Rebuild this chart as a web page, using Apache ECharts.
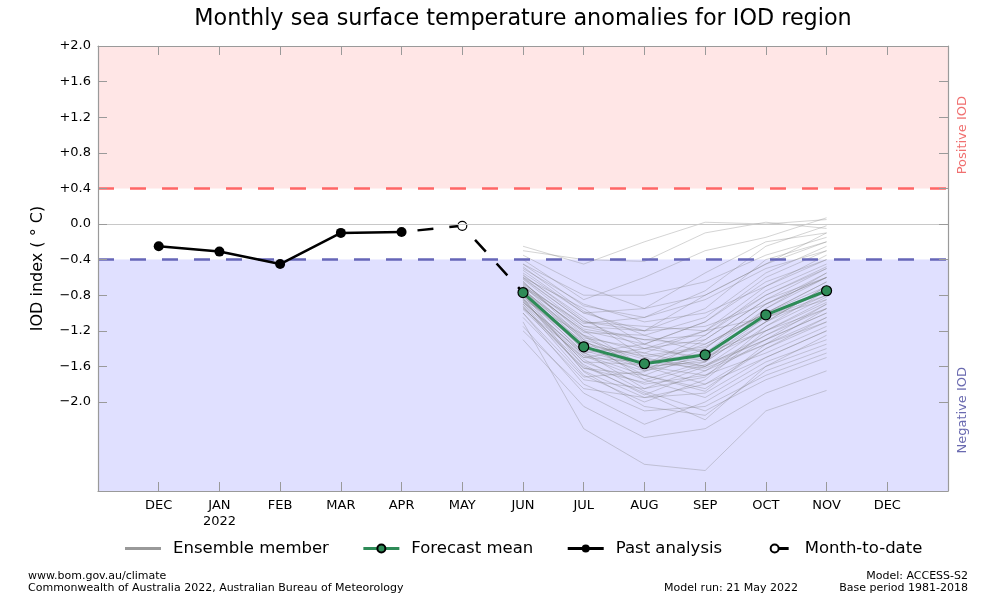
<!DOCTYPE html>
<html>
<head>
<meta charset="utf-8">
<script src="https://cdn.jsdelivr.net/npm/echarts@6/dist/echarts.min.js"></script>
<style>html,body{margin:0;padding:0;background:#fff}#c{width:996px;height:597px}</style>
</head>
<body>
<div id="c"></div>
<script>
// ---- data ----
const monthLabels = ['DEC','JAN\n2022','FEB','MAR','APR','MAY','JUN','JUL','AUG','SEP','OCT','NOV','DEC'];
const monthIndex = [0,1,2,3,4,5,6,7,8,9,10,11,12];
const yTickValues = [2.0,1.6,1.2,0.8,0.4,0.0,-0.4,-0.8,-1.2,-1.6,-2.0];
const yTickLabels = ['+2.0','+1.6','+1.2','+0.8','+0.4','0.0','\u22120.4','\u22120.8','\u22121.2','\u22121.6','\u22122.0'];

const pastMonths = [0,1,2,3,4];
const pastValues = [-0.25,-0.31,-0.45,-0.10,-0.09];

const mtdMonths = [4,5,6];
const mtdValues = [-0.09,-0.02,-0.77];

const forecastMonths = [6,7,8,9,10,11];
const forecastMean = [-0.77,-1.38,-1.57,-1.47,-1.02,-0.75];

// ensemble members: JUN..NOV
const ensembleMembers = [
  [-0.25,-0.45,-0.20, 0.02, 0.00, 0.05],
  [-0.30,-0.40,-0.42,-0.10, 0.02,-0.05],
  [-0.40,-0.85,-0.60,-0.30,-0.15, 0.07],
  [-0.55,-1.00,-0.95,-0.55,-0.20,-0.10],
  [-0.60,-1.10,-1.20,-0.80,-0.45,-0.20],
  [-0.70,-1.20,-1.35,-1.10,-0.60,-0.30],
  [-0.75,-1.30,-1.50,-1.40,-0.90,-0.55],
  [-0.80,-1.40,-1.60,-1.55,-1.10,-0.70],
  [-0.85,-1.55,-1.80,-1.70,-1.30,-0.90],
  [-0.90,-1.65,-1.95,-1.90,-1.50,-1.20],
  [-1.00,-1.80,-2.10,-2.05,-1.70,-1.45],
  [-1.10,-2.30,-2.70,-2.77,-2.10,-1.87],
  [-1.30,-2.05,-2.40,-2.30,-1.90,-1.65],
  [-0.65,-1.25,-1.45,-1.60,-1.25,-0.95],
  [-0.50,-0.90,-1.10,-1.00,-0.70,-0.40],
  [-0.45,-0.80,-0.80,-0.65,-0.35,-0.15],
  [-0.95,-1.50,-1.40,-1.20,-0.80,-0.50],
  [-0.72,-1.35,-1.70,-1.85,-1.40,-1.05],
  [-0.88,-1.45,-1.65,-1.30,-0.85,-0.60],
  [-0.78,-1.60,-1.90,-2.20,-1.60,-1.25],
  [-0.62,-1.15,-1.30,-1.35,-1.00,-0.65],
  [-0.82,-1.38,-1.55,-1.45,-1.05,-0.80],
  [-0.68,-1.22,-1.25,-1.05,-0.55,-0.25],
  [-0.92,-1.70,-2.00,-1.75,-1.20,-0.85],
  [-0.58,-1.05,-1.50,-1.65,-1.35,-1.10],
  [-1.05,-1.75,-1.85,-1.60,-1.15,-0.75],
  [-0.74,-1.28,-1.40,-1.50,-1.10,-0.70],
  [-0.84,-1.48,-1.75,-1.95,-1.55,-1.30],
  [-0.66,-1.18,-1.30,-1.25,-0.75,-0.45],
  [-0.96,-1.62,-1.70,-1.45,-0.95,-0.55],
  [-0.52,-1.00,-1.20,-1.15,-0.90,-0.60],
  [-0.76,-1.42,-1.62,-1.50,-1.20,-0.95],
  [-0.86,-1.55,-1.58,-1.35,-1.00,-0.65],
  [-1.15,-1.90,-2.25,-2.00,-1.60,-1.35],
  [-0.70,-1.12,-1.05,-0.85,-0.50,-0.30],
  [-0.80,-1.33,-1.52,-1.60,-1.30,-1.00],
  [-0.60,-0.95,-1.35,-1.55,-1.10,-0.80],
  [-0.90,-1.52,-1.88,-2.10,-1.75,-1.50],
  [-0.73,-1.40,-1.45,-1.20,-0.70,-0.35],
  [-0.85,-1.25,-1.60,-1.70,-1.45,-1.15],
  [-0.35,-0.70,-0.95,-0.80,-0.45,-0.10],
  [-1.20,-1.85,-1.95,-1.80,-1.40,-1.10],
  [-0.64,-1.30,-1.75,-1.55,-0.95,-0.60],
  [-0.79,-1.45,-1.35,-1.10,-0.65,-0.40],
  [-0.94,-1.58,-1.92,-1.65,-1.25,-0.90],
  [-0.71,-1.20,-1.60,-1.80,-1.50,-1.20],
  [-0.57,-1.08,-1.40,-1.30,-0.85,-0.50],
  [-0.83,-1.66,-2.05,-2.15,-1.65,-1.40],
  [-0.77,-1.36,-1.48,-1.38,-1.00,-0.70],
  [-0.67,-1.15,-1.20,-0.95,-0.40,-0.20],
  [-1.00,-1.72,-1.66,-1.40,-0.90,-0.60],
  [-0.88,-1.50,-1.55,-1.62,-1.35,-1.05],
  [-0.74,-1.26,-1.65,-1.52,-1.05,-0.75],
  [-0.48,-0.98,-1.25,-1.45,-1.20,-0.88],
  [-0.81,-1.44,-1.85,-1.72,-1.15,-0.82],
  [-0.69,-1.32,-1.58,-1.25,-0.80,-0.48],
  [-0.93,-1.62,-1.78,-1.58,-1.30,-1.00],
  [-0.61,-1.10,-1.15,-1.20,-1.05,-0.85],
  [-0.87,-1.47,-1.70,-1.88,-1.35,-0.95],
  [-0.45,-0.92,-1.05,-0.75,-0.25,-0.02]
];

const positiveThreshold = 0.4;
const negativeThreshold = -0.4;
const yMin = -3.0, yMax = 2.0;
const xMin = -1, xMax = 13;

// ---- chart ----
const FONT = 'DejaVu Sans';
const chart = echarts.init(document.getElementById('c'), null, {renderer: 'canvas'});
const pair = (xs, ys) => xs.map((x, i) => [x, ys[i]]);

const series = [];
series.push({
  type: 'line', name: 'bands', data: [], z: 0, silent: true,
  markArea: {
    silent: true,
    itemStyle: {opacity: 1},
    data: [
      [{yAxis: positiveThreshold, itemStyle: {color: '#FFE6E6'}}, {yAxis: yMax}],
      [{yAxis: yMin, itemStyle: {color: '#E0E0FF'}}, {yAxis: negativeThreshold}]
    ]
  }
});
ensembleMembers.forEach((m) => {
  series.push({
    type: 'line', name: 'Ensemble member', data: pair(forecastMonths, m),
    symbol: 'none', z: 2, silent: true,
    lineStyle: {color: '#7a7a7a', width: 1, opacity: 0.32},
    itemStyle: {color: '#999999'}
  });
});
series.push({
  type: 'line', name: 'thresholds', data: [], z: 3, silent: true,
  markLine: {
    silent: true, symbol: 'none', label: {show: false},
    data: [
      {yAxis: 0, lineStyle: {color: '#c8c8c8', width: 1, type: 'solid'}},
      {yAxis: positiveThreshold, lineStyle: {color: '#FF6666', width: 2.5, type: [16, 16]}},
      {yAxis: negativeThreshold, lineStyle: {color: '#6666B8', width: 2.5, type: [16, 16]}}
    ]
  }
});
series.push({
  type: 'line', name: 'Month-to-date', data: pair(mtdMonths, mtdValues), z: 4,
  symbol: function (v, p) { return p.dataIndex === 1 ? 'circle' : 'none'; },
  symbolSize: 9, showAllSymbol: true,
  lineStyle: {color: '#000', width: 2.5, type: [16, 16], dashOffset: 16},
  itemStyle: {color: '#fff', borderColor: '#000', borderWidth: 1.2}
});
series.push({
  type: 'line', name: 'Forecast mean', data: pair(forecastMonths, forecastMean), z: 5,
  symbol: 'circle', symbolSize: 10,
  lineStyle: {color: '#2E8B57', width: 3},
  itemStyle: {color: '#2E8B57', borderColor: '#000', borderWidth: 1.2}
});
series.push({
  type: 'line', name: 'Past analysis', data: pair(pastMonths, pastValues), z: 5,
  symbol: 'circle', symbolSize: 10,
  lineStyle: {color: '#000', width: 2.5},
  itemStyle: {color: '#000'}
});

const frame = {show: true, onZero: false, lineStyle: {color: '#9a9a9a', width: 1.2}};
const tick = {show: true, inside: true, length: 9, lineStyle: {color: '#9a9a9a', width: 1}};

chart.setOption({
  animation: false,
  textStyle: {fontFamily: FONT},
  title: {
    text: 'Monthly sea surface temperature anomalies for IOD region',
    left: 518, top: 3, textAlign: 'center',
    textStyle: {fontFamily: FONT, fontSize: 22.3, fontWeight: 'normal', color: '#000'}
  },
  grid: {left: 98, right: 48, top: 46, bottom: 106},
  legend: {
    top: 535, left: 120,
    itemWidth: 36, itemHeight: 10, itemGap: 33,
    textStyle: {fontFamily: FONT, fontSize: 16.5, color: '#000', padding: [0, 0, 0, 7]},
    data: [
      {name: 'Ensemble member', icon: 'path://M0,0 H36 V3 H0 Z', itemStyle: {color: '#999999', opacity: 1, borderWidth: 0}},
      {name: 'Forecast mean', lineStyle: {width: 3}},
      {name: 'Past analysis', lineStyle: {width: 3}},
      {name: 'Month-to-date', lineStyle: {width: 3}}
    ]
  },
  xAxis: [
    {
      type: 'value', min: xMin, max: xMax, position: 'bottom', z: 10,
      axisLine: frame, axisTick: Object.assign({customValues: monthIndex}, tick),
      splitLine: {show: false},
      axisLabel: {
        customValues: monthIndex, margin: 7, fontSize: 13, color: '#000', fontFamily: FONT, lineHeight: 16,
        formatter: (v) => monthLabels[Math.round(v)]
      }
    },
    {
      type: 'value', min: xMin, max: xMax, position: 'top', z: 10,
      axisLine: frame, axisTick: Object.assign({customValues: monthIndex}, tick),
      splitLine: {show: false}, axisLabel: {show: false}
    }
  ],
  yAxis: [
    {
      type: 'value', min: yMin, max: yMax, position: 'left', z: 10,
      name: 'IOD index ( \u00B0 C)', nameLocation: 'middle', nameGap: 52,
      nameTextStyle: {fontFamily: FONT, fontSize: 16, color: '#000'},
      axisLine: frame, axisTick: Object.assign({customValues: yTickValues}, tick),
      splitLine: {show: false},
      axisLabel: {
        customValues: yTickValues, margin: 7, fontSize: 13, color: '#000', fontFamily: FONT,
        formatter: (v) => { const i = yTickValues.findIndex(t => Math.abs(t - v) < 1e-6); return i >= 0 ? yTickLabels[i] : ''; }
      }
    },
    {
      type: 'value', min: yMin, max: yMax, position: 'right', z: 10,
      axisLine: frame, axisTick: Object.assign({customValues: yTickValues}, tick),
      splitLine: {show: false}, axisLabel: {show: false}
    }
  ],
  graphic: [
    {type: 'text', left: 956, top: 96, rotation: Math.PI / 2, silent: true,
     style: {text: 'Positive IOD', fill: '#F07070', font: '13px "DejaVu Sans"'}},
    {type: 'text', left: 956, top: 367, rotation: Math.PI / 2, silent: true,
     style: {text: 'Negative IOD', fill: '#6A6AB0', font: '13px "DejaVu Sans"'}},
    {type: 'text', left: 28, top: 571, silent: true,
     style: {text: 'www.bom.gov.au/climate', fill: '#000', font: '11px "DejaVu Sans"'}},
    {type: 'text', left: 28, top: 583, silent: true,
     style: {text: 'Commonwealth of Australia 2022, Australian Bureau of Meteorology', fill: '#000', font: '11px "DejaVu Sans"'}},
    {type: 'text', right: 198, top: 583, silent: true,
     style: {text: 'Model run: 21 May 2022', fill: '#000', font: '11px "DejaVu Sans"'}},
    {type: 'text', right: 28, top: 571, silent: true,
     style: {text: 'Model: ACCESS-S2', fill: '#000', font: '11px "DejaVu Sans"'}},
    {type: 'text', right: 28, top: 583, silent: true,
     style: {text: 'Base period 1981-2018', fill: '#000', font: '11px "DejaVu Sans"'}}
  ],
  series: series
});
</script>
</body>
</html>
